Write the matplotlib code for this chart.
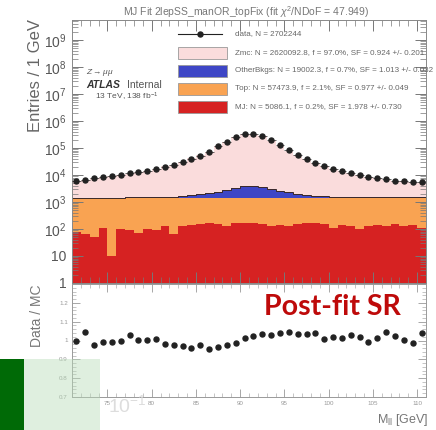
import numpy as np
import matplotlib
matplotlib.use("Agg")
import matplotlib.pyplot as plt
from matplotlib.patches import Rectangle
from matplotlib.lines import Line2D
from matplotlib.ticker import MultipleLocator, LogLocator, FixedLocator, NullFormatter

plt.rcParams['font.family'] = ['Liberation Sans', 'DejaVu Sans']
plt.rcParams['mathtext.fontset'] = 'custom'
plt.rcParams['mathtext.rm'] = 'Liberation Sans'
plt.rcParams['mathtext.it'] = 'Liberation Sans:italic'
plt.rcParams['mathtext.bf'] = 'Liberation Sans:bold'

# bins of 1 GeV from 71 to 111 GeV
edges = np.arange(71, 112)
centers = edges[:-1] + 0.5

data = [6200, 6700, 7500, 8200, 8900, 10300, 11500, 12600, 14600, 16900,
        20600, 23800, 29700, 39500, 52500, 69600, 114000, 165000, 254000, 337000,
        337000, 275000, 190000, 124000, 81000, 56000, 39500, 28000, 21000, 17000,
        13800, 12000, 10300, 8700, 7800, 6900, 6200, 5800, 5300, 5300]

ratio = [0.996, 1.047, 0.975, 0.993, 0.993, 0.998, 1.029, 1.002, 1.005, 1.006,
         0.980, 0.975, 0.971, 0.960, 0.978, 0.957, 0.966, 0.975, 0.989, 1.015,
         1.025, 1.032, 1.029, 1.038, 1.047, 1.034, 1.032, 1.038, 1.007, 1.020,
         1.011, 1.029, 1.020, 0.993, 1.011, 1.047, 1.025, 1.002, 0.989, 1.038]

mj = [78, 63, 52, 112, 10, 102, 92, 73, 102, 92,
      130, 63, 126, 136, 149, 162, 149, 130, 162, 162,
      162, 149, 130, 136, 132, 149, 162, 162, 149, 112,
      136, 130, 102, 126, 136, 130, 149, 126, 136, 112]

top = [1340, 1350, 1360, 1300, 1400, 1310, 1320, 1340, 1310, 1320,
       1290, 1350, 1290, 1280, 1270, 1260, 1270, 1290, 1260, 1260,
       1260, 1270, 1290, 1280, 1290, 1270, 1260, 1260, 1270, 1310,
       1280, 1290, 1320, 1290, 1280, 1290, 1270, 1290, 1280, 1310]

other = [40, 40, 45, 45, 50, 50, 55, 60, 70, 80,
         120, 180, 250, 380, 520, 700, 1000, 1400, 1900, 2500,
         2550, 2100, 1600, 1200, 850, 550, 380, 260, 190, 140,
         120, 110, 100, 95, 90, 85, 80, 75, 70, 65]

zmc = [4765, 4939, 6232, 6793, 7498, 8851, 9701, 11095, 13037, 15299,
       19480, 22810, 28917, 39346, 51741, 70607, 115592, 166411, 253505, 328100,
       324810, 262953, 181625, 116841, 75094, 52189, 36475, 25295, 19244, 15107,
       12120, 10142, 8588, 7261, 6215, 5100, 4559, 4308, 3879, 3626]

legend_labels = [
    "data, N = 2702244",
    "Zmc: N = 2620092.8, f = 97.0%, SF = 0.924 +/- 0.201",
    "OtherBkgs: N = 19002.3, f = 0.7%, SF = 1.013 +/- 0.032",
    "Top: N = 57473.9, f = 2.1%, SF = 0.977 +/- 0.049",
    "MJ: N = 5086.1, f = 0.2%, SF = 1.978 +/- 0.730",
]
c_z, c_other, c_top, c_mj = '#FADCDC', '#3E46C6', '#F9A352', '#D62222'

W, H = 436, 430
def fx(x):
    return x / W
def fy(y):
    return 1 - y / H

fig = plt.figure(figsize=(4.36, 4.30), dpi=100)
ax = fig.add_axes([fx(72), fy(283), fx(426) - fx(72), fy(20) - fy(283)])
rx = fig.add_axes([fx(72), fy(397), fx(426) - fx(72), fy(284) - fy(397)])

s1 = np.array(mj, float)
s2 = s1 + np.array(top)
s3 = s2 + np.array(other)
s4 = s3 + np.array(zmc)
ax.stairs(s1, edges, baseline=1, fill=True, color=c_mj, lw=0)
ax.stairs(s2, edges, baseline=s1, fill=True, color=c_top, lw=0)
ax.stairs(s3, edges, baseline=s2, fill=True, color=c_other, lw=0)
ax.stairs(s4, edges, baseline=s3, fill=True, color=c_z, lw=0)
ax.stairs(s3, edges, baseline=None, color='#3b2a2a', lw=0.7)
ax.errorbar(centers, data, xerr=0.5, fmt='o', color='#222222', ms=3.6, lw=0.5, zorder=5)

ax.set_yscale('log')
ax.set_xlim(71, 111)
ax.set_ylim(1, 10 ** 9.74)
ax.yaxis.set_major_locator(FixedLocator([10.0 ** k for k in range(10)]))
ax.yaxis.set_minor_locator(LogLocator(base=10, subs=np.arange(2, 10), numticks=50))
ax.yaxis.set_minor_formatter(NullFormatter())
ax.set_yticklabels(['1', '10'] + ['$10^{%d}$' % k for k in range(2, 10)])
ax.xaxis.set_major_locator(MultipleLocator(5))
ax.xaxis.set_minor_locator(MultipleLocator(1))
ax.set_xticklabels([])
ax.tick_params(which='both', direction='in', top=True, right=True, color='#777777')
ax.tick_params(which='major', length=8, width=0.7)
ax.tick_params(which='minor', length=4, width=0.5)
ax.tick_params(axis='y', labelsize=10, labelcolor='#555555', pad=4)
for sp in ax.spines.values():
    sp.set_color('#888888')
    sp.set_linewidth(0.7)

rx.plot(centers, ratio, 'o', color='#222222', ms=3.6)
rx.set_xlim(71, 111)
rx.set_ylim(0.7, 1.3)
rx.yaxis.set_major_locator(FixedLocator([0.7, 0.8, 0.9, 1.0, 1.1, 1.2]))
rx.set_yticklabels(['0.7', '0.8', '0.9', '1', '1.1', '1.2'])
rx.yaxis.set_minor_locator(MultipleLocator(0.02))
rx.xaxis.set_major_locator(MultipleLocator(5))
rx.xaxis.set_minor_locator(MultipleLocator(1))
rx.tick_params(which='both', direction='in', top=True, right=True, color='#999999')
rx.tick_params(which='major', length=6, width=0.6)
rx.tick_params(which='minor', length=3, width=0.4)
rx.tick_params(labelsize=4.5, labelcolor='#999999', pad=3)
for sp in rx.spines.values():
    sp.set_color('#999999')
    sp.set_linewidth(0.7)

# axis titles
fig.text(fx(36), fy(75), 'Entries / 1 GeV', rotation=90, ha='center', va='center',
         fontsize=12, color='#666666')
fig.text(fx(37), fy(316), 'Data / MC', rotation=90, ha='center', va='center',
         fontsize=10, color='#777777')
fig.text(fx(428), fy(420), r'M$_{\rm ll}$ [GeV]', ha='right', va='center',
         fontsize=9, color='#777777')
fig.text(fx(246), fy(12), r'MJ Fit 2lepSS_manOR_topFix (fit $\chi^2$/NDoF = 47.949)',
         ha='center', va='center', fontsize=7.5, color='#777777')

# ATLAS label
fig.text(fx(86), fy(72), r'Z$\rightarrow\mu\mu$', ha='left', va='center', fontsize=6,
         style='italic', color='#555555')
fig.text(fx(86), fy(85), 'ATLAS', ha='left', va='center', fontsize=7.5,
         weight='bold', style='italic', color='#333333')
fig.text(fx(127), fy(85), 'Internal', ha='left', va='center', fontsize=7.5, color='#555555')
fig.text(fx(127), fy(97), r'13 TeV, 138 fb$^{-1}$', ha='center', va='center', fontsize=6,
         color='#555555')

# legend
rows = [34, 53, 71, 89, 107]
fig.add_artist(Line2D([fx(178), fx(222)], [fy(rows[0])] * 2, color='#222222', lw=0.8))
fig.add_artist(Line2D([fx(200)], [fy(rows[0])], marker='o', color='#222222', ms=3.6))
for y, c in zip(rows[1:], [c_z, c_other, c_top, c_mj]):
    fig.add_artist(Rectangle((fx(178), fy(y + 6)), fx(49), 12 / H, facecolor=c,
                             edgecolor='#999999', lw=0.6))
for y, lab in zip(rows, legend_labels):
    fig.text(fx(235), fy(y), lab, ha='left', va='center', fontsize=5.8, color='#666666')

fig.text(fx(332), fy(307), 'Post-fit SR', ha='center', va='center', fontsize=20.5,
         weight='bold', color='#BE0A0A', family=['Lato', 'DejaVu Sans'])

# slide leftovers at the bottom left
fig.text(fx(127), fy(405), r'10$^{-1}$', ha='center', va='center', fontsize=14,
         color='#DDDDDD')
fig.add_artist(Rectangle((fx(24), 0), fx(76), fy(359), facecolor='#B9DDB9', alpha=0.45,
                         lw=0, zorder=10))
fig.add_artist(Rectangle((0, 0), fx(24), fy(359), facecolor='#006A06', lw=0, zorder=10))

fig.savefig('out.png', dpi=100)
